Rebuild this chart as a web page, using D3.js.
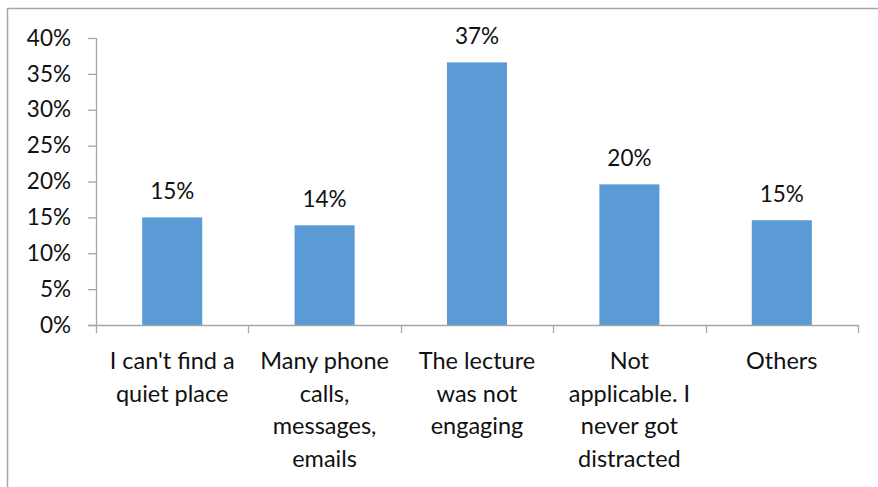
<!DOCTYPE html>
<html>
<head>
<meta charset="utf-8">
<script src="https://cdn.jsdelivr.net/npm/d3@7/dist/d3.min.js"></script>
<style>
  html, body { margin: 0; padding: 0; background: #fff; }
  svg { display: block; font-family: Lato, "Open Sans", sans-serif; }
</style>
</head>
<body>
<svg id="chart" width="878" height="487"></svg>
<script>
// Reasons for distraction during online lectures (share of respondents)
const categories = [
  "I can't find a quiet place",
  "Many phone calls, messages, emails",
  "The lecture was not engaging",
  "Not applicable. I never got distracted",
  "Others"
];
const categoryLines = [
  ["I can't find a", "quiet place"],
  ["Many phone", "calls,", "messages,", "emails"],
  ["The lecture", "was not", "engaging"],
  ["Not", "applicable. I", "never got", "distracted"],
  ["Others"]
];
const values = [0.150, 0.139, 0.366, 0.196, 0.146];
const yTicks = [0, 0.05, 0.10, 0.15, 0.20, 0.25, 0.30, 0.35, 0.40];

const svg = d3.select("#chart");
const axisColor = "#a6a6a6";
const barColor = "#5b9bd5";
const textColor = "#111";

// outer frame (top and left edges)
svg.append("path")
  .attr("d", "M7.5,487 V8.5 H878")
  .attr("fill", "none")
  .attr("stroke", axisColor)
  .attr("stroke-width", 1.5);

const plot = { left: 96, right: 858, top: 38, bottom: 325 };

const x = d3.scaleBand()
  .domain(categories)
  .range([plot.left, plot.right])
  .paddingInner(0.606)
  .paddingOuter(0.303);

const y = d3.scaleLinear()
  .domain([0, 0.40])
  .range([plot.bottom, plot.top]);

const pct = d3.format(".0%");

// y axis
const yAxis = svg.append("g")
  .attr("transform", `translate(${plot.left},0)`)
  .call(d3.axisLeft(y).tickValues(yTicks).tickFormat(pct).tickSize(8).tickPadding(17));
yAxis.select(".domain").attr("stroke", axisColor).attr("stroke-width", 1.3)
  .attr("d", `M0.5,${plot.top}V${plot.bottom}`);
yAxis.selectAll(".tick line").attr("stroke", axisColor).attr("stroke-width", 1.3);
yAxis.selectAll(".tick text")
  .attr("fill", textColor)
  .style("font-size", "22.5px")
  .style("font-family", "Lato, 'Open Sans', sans-serif");

// bars
svg.append("g").selectAll("rect")
  .data(values)
  .join("rect")
  .attr("x", (d, i) => x(categories[i]))
  .attr("y", d => y(d))
  .attr("width", x.bandwidth())
  .attr("height", d => y(0) - y(d))
  .attr("fill", barColor);

// x axis: baseline and category boundary ticks
const boundaries = categories.map(c => x(c) - x.step() * x.paddingInner() / 2)
  .concat([plot.right]);
const xAxis = svg.append("g");
xAxis.append("line")
  .attr("x1", plot.left - 8).attr("x2", plot.right)
  .attr("y1", plot.bottom + 0.5).attr("y2", plot.bottom + 0.5)
  .attr("stroke", axisColor).attr("stroke-width", 1.3);
xAxis.selectAll("line.tick")
  .data(boundaries)
  .join("line")
  .attr("class", "tick")
  .attr("x1", d => Math.round(d) + 0.5).attr("x2", d => Math.round(d) + 0.5)
  .attr("y1", plot.bottom).attr("y2", plot.bottom + 8)
  .attr("stroke", axisColor).attr("stroke-width", 1.3);

// category labels
const catText = svg.append("g").selectAll("text")
  .data(categories)
  .join("text")
  .attr("text-anchor", "middle")
  .attr("fill", textColor)
  .style("font-size", "23.5px");
catText.each(function(c, i) {
  const t = d3.select(this);
  categoryLines[i].forEach((line, k) => {
    t.append("tspan")
      .attr("x", x(c) + x.bandwidth() / 2)
      .attr("y", 369 + k * 32.5)
      .text(line);
  });
});

// value labels
svg.append("g").selectAll("text")
  .data(values)
  .join("text")
  .attr("x", (d, i) => x(categories[i]) + x.bandwidth() / 2)
  .attr("y", d => y(d) - 18)
  .attr("text-anchor", "middle")
  .attr("fill", textColor)
  .style("font-size", "22.5px")
  .text(d => pct(d));
</script>
</body>
</html>
